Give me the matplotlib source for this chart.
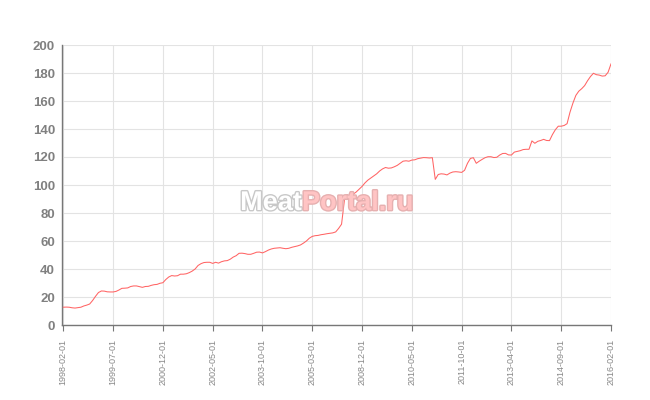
import matplotlib
matplotlib.use("Agg")
import matplotlib.pyplot as plt
import matplotlib.patheffects as pe

# monthly index values (x axis is category based, one point per month with gaps)
values = [
    12.7, 12.8, 12.7, 12.3, 12.1, 12.4, 12.7, 13.6, 14.2, 15.0,
    17.5, 20.5, 23.2, 24.3, 24.2, 23.7, 23.6, 23.6, 24.0, 25.0,
    26.2, 26.3, 26.5, 27.5, 27.9, 27.9, 27.4, 26.9, 27.5, 27.6,
    28.3, 28.8, 29.0, 29.8, 30.2, 32.5, 34.3, 35.3, 35.0, 35.2,
    36.3, 36.3, 36.6, 37.4, 38.5, 40.0, 42.5, 43.8, 44.6, 44.8,
    44.8, 44.0, 44.8, 44.2, 45.2, 45.8, 46.0, 47.0, 48.5, 49.5,
    51.2, 51.3, 51.0, 50.5, 50.5, 51.2, 52.0, 52.1, 51.5, 52.4,
    53.5, 54.3, 54.8, 55.0, 55.2, 54.8, 54.5, 54.8, 55.5, 56.0,
    56.5, 57.2, 58.5, 60.0, 62.0, 63.3, 63.8, 64.0, 64.5, 64.8,
    65.2, 65.5, 65.8, 66.5, 69.0, 72.0, 89.5, 90.5, 92.0, 93.5,
    95.0, 97.0, 99.0, 101.5, 103.5, 105.0, 106.5, 108.0, 110.0, 111.5,
    112.5, 112.0, 112.2, 113.0, 114.0, 115.5, 117.0, 117.3, 117.0, 117.8,
    118.0, 118.8, 119.2, 119.6, 119.5, 119.3, 119.5, 104.0, 107.5, 108.0,
    107.8, 107.2, 108.5, 109.3, 109.5, 109.3, 109.0, 110.5, 115.5, 119.0,
    119.5, 115.5, 117.0, 118.3, 119.5, 120.2, 120.2, 119.6, 119.8, 121.4,
    122.5, 122.6, 121.5, 121.4, 123.5, 124.0, 124.5, 125.3, 125.5, 125.5,
    131.5, 129.8, 131.2, 131.8, 132.6, 131.8, 131.7, 136.0, 139.5, 142.0,
    142.0, 142.5, 143.8, 152.0, 158.5, 164.0, 167.0, 168.8, 171.0, 174.5,
    177.5, 179.8, 178.8, 178.5, 177.8, 178.0, 180.5, 186.5,
]

tick_labels = [
    "1998-02-01", "1999-07-01", "2000-12-01", "2002-05-01",
    "2003-10-01", "2005-03-01", "2008-12-01", "2010-05-01",
    "2011-10-01", "2013-04-01", "2014-09-01", "2016-02-01",
]
tick_step = 17

fig = plt.figure(figsize=(6.5, 4), dpi=100)
ax = fig.add_axes([62 / 650, 1 - 325 / 400, (611 - 62) / 650, 280 / 400])

ax.plot(range(len(values)), values, color="#ff6464", lw=0.75, zorder=3)

ax.set_xlim(-0.45, len(values) - 1)
ax.set_ylim(0, 200)
ax.set_yticks(range(0, 201, 20))
ax.set_xticks(range(0, len(values), tick_step))
ax.set_xticklabels(tick_labels, rotation=90, fontsize=6.5,
                   family="Liberation Sans", color="#888888")
for lab in ax.get_yticklabels():
    lab.set_fontfamily("Liberation Sans")
    lab.set_fontweight("bold")
    lab.set_fontsize(9.5)
    lab.set_color("#808080")

ax.tick_params(axis="y", length=0, pad=5)
ax.tick_params(axis="x", length=4, width=0.8, color="#777777", pad=6)
ax.grid(True, color="#e3e3e3", lw=0.8, zorder=0)
ax.set_axisbelow(True)
for side in ("top", "right"):
    ax.spines[side].set_visible(False)
for side in ("left", "bottom"):
    ax.spines[side].set_color("#777777")
    ax.spines[side].set_linewidth(1.0)

# watermark
wm_kw = dict(fontsize=19.5, fontweight="bold", family="Liberation Sans",
             va="baseline", transform=fig.transFigure, zorder=2)
fig.text(302 / 650, 1 - 210 / 400, "Meat", ha="right", color="white",
         path_effects=[pe.withStroke(linewidth=2, foreground="#c8c8c8")], **wm_kw)
fig.text(302 / 650, 1 - 210 / 400, "Portal.ru", ha="left", color="#ffc4c4",
         path_effects=[pe.withStroke(linewidth=2, foreground="#e6b0b0")], **wm_kw)

fig.savefig("out.png", dpi=100)
